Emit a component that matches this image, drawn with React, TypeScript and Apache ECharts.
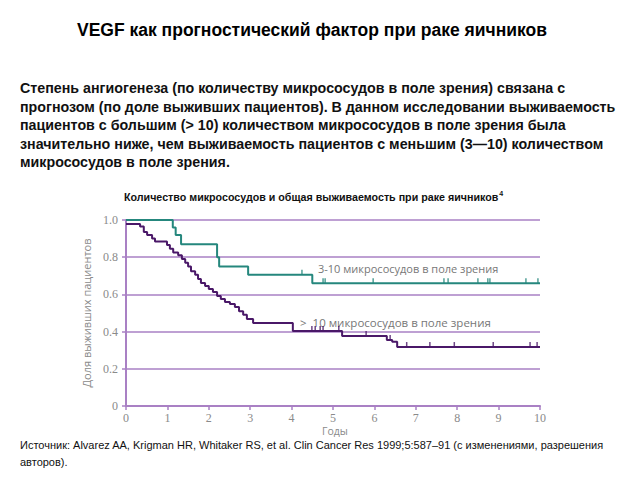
import React, { useEffect, useRef } from "react";
import * as echarts from "echarts";

// 3-10 microvessels (teal)
const lowTimes = [0, 1.13, 1.2, 1.33, 2.2, 2.25, 2.95, 4.5, 10];
const lowSurv = [1.0, 0.96, 0.92, 0.87, 0.8, 0.75, 0.705, 0.66, 0.66];
const lowCensorT = [4.25, 4.76, 4.81, 5.97, 7.68, 7.78, 8.5, 8.74, 8.79, 9.66, 9.95];
const lowCensorS = [0.705, 0.66, 0.66, 0.66, 0.66, 0.66, 0.66, 0.66, 0.66, 0.66, 0.66];

// >10 microvessels (purple)
const highTimes = [0, 0.34, 0.43, 0.51, 0.63, 0.7, 0.99, 1.06, 1.14, 1.26, 1.35, 1.43, 1.5, 1.57, 1.67, 1.74, 1.81, 1.91, 2.0, 2.1, 2.2, 2.29, 2.39, 2.51, 2.63, 2.73, 2.83, 2.92, 3.07, 4.03, 5.22, 6.3, 6.43, 6.55, 10];
const highSurv = [0.978, 0.965, 0.935, 0.92, 0.9, 0.885, 0.865, 0.845, 0.825, 0.81, 0.79, 0.77, 0.75, 0.725, 0.705, 0.683, 0.661, 0.645, 0.629, 0.613, 0.591, 0.575, 0.559, 0.548, 0.532, 0.51, 0.49, 0.468, 0.446, 0.403, 0.376, 0.355, 0.345, 0.317, 0.317];
const highCensorT = [4.49, 4.57, 4.69, 4.76, 5.14, 5.8, 6.38, 6.78, 7.34, 7.93, 8.87, 9.76, 9.93];
const highCensorS = [0.403, 0.403, 0.403, 0.403, 0.403, 0.376, 0.355, 0.317, 0.317, 0.317, 0.317, 0.317, 0.317];

const title = "VEGF как прогностический фактор при раке яичников";
const paragraph = [
  "Степень ангиогенеза (по количеству микрососудов в поле зрения) связана с",
  "прогнозом (по доле выживших пациентов). В данном исследовании выживаемость",
  "пациентов с большим (> 10) количеством микрососудов в поле зрения была",
  "значительно ниже, чем выживаемость пациентов с меньшим (3—10) количеством",
  "микрососудов в поле зрения.",
];
const chartTitle = "Количество микрососудов и общая выживаемость при раке яичников";
const chartTitleSup = "4";
const lowLabel = "3-10 микрососудов в поле зрения";
const highLabel = ">  10 микрососудов в поле зрения";
const yName = "Доля выживших пациентов";
const xName = "Годы";
const source1 = "Источник: Alvarez AA, Krigman HR, Whitaker RS, et al. Clin Cancer Res 1999;5:587–91 (с изменениями, разрешения";
const source2 = "авторов).";

const TEAL = "#25877d";
const PURPLE = "#4a1868";
const GRID = "#a980c4";
const GRAY = "#8a8a8a";

export default function App() {
  const ref = useRef<HTMLDivElement>(null);
  useEffect(() => {
    const chart = echarts.init(ref.current!, null, { renderer: "svg" });
    const zip = (a: number[], b: number[]) => a.map((t, i) => [t, b[i]]);
    chart.setOption({
      animation: false,
      backgroundColor: "#fff",
      grid: { left: 126, right: 100, top: 220, bottom: 74 },
      xAxis: {
        type: "value",
        min: 0,
        max: 10,
        interval: 1,
        axisLine: { show: true, lineStyle: { color: GRID, width: 2 } },
        axisTick: { show: true, length: 4, lineStyle: { color: GRID, width: 1.5 } },
        axisLabel: { color: GRAY, fontFamily: "Liberation Serif", fontSize: 12, margin: 6 },
        splitLine: { show: false },
      },
      yAxis: {
        type: "value",
        min: 0,
        max: 1,
        interval: 0.2,
        name: yName,
        nameLocation: "middle",
        nameGap: 26,
        nameTextStyle: { color: GRAY, fontFamily: "Open Sans", fontSize: 11 },
        axisLine: { show: true, lineStyle: { color: GRID, width: 2 } },
        axisTick: { show: true, length: 4, lineStyle: { color: GRID, width: 1.5 } },
        axisLabel: {
          color: GRAY,
          fontFamily: "Liberation Serif",
          fontSize: 12,
          margin: 8,
          formatter: (v: number) => (v === 0 ? "0" : v.toFixed(1)),
        },
        splitLine: { show: true, lineStyle: { color: GRID, width: 1.5 } },
      },
      series: [
        {
          type: "line",
          step: "end",
          data: zip(lowTimes, lowSurv),
          showSymbol: false,
          lineStyle: { color: TEAL, width: 2 },
          z: 3,
        },
        {
          type: "line",
          step: "end",
          data: zip(highTimes, highSurv),
          showSymbol: false,
          lineStyle: { color: PURPLE, width: 2 },
          z: 3,
        },
        {
          type: "scatter",
          data: zip(lowCensorT, lowCensorS),
          symbol: "rect",
          symbolSize: [1.5, 5],
          symbolOffset: [0, -2.5],
          itemStyle: { color: TEAL },
          z: 4,
        },
        {
          type: "scatter",
          data: zip(highCensorT, highCensorS),
          symbol: "rect",
          symbolSize: [1.5, 5],
          symbolOffset: [0, -2.5],
          itemStyle: { color: PURPLE },
          z: 4,
        },
      ],
      graphic: [
        {
          type: "text",
          left: 77,
          top: 21,
          style: { text: title, font: "bold 17.5px 'Liberation Sans', Arial", fill: "#000" },
        },
        ...paragraph.map((line, i) => ({
          type: "text",
          left: 20,
          top: 81 + i * 18.5,
          style: { text: line, font: "bold 14.25px 'Liberation Sans', Arial", fill: "#111" },
        })),
        {
          type: "text",
          left: 124,
          top: 190,
          style: {
            text: "{t|" + chartTitle + "}{s|" + chartTitleSup + "}",
            rich: {
              t: { font: "bold 10.7px 'Liberation Sans', Arial", fill: "#111" },
              s: { font: "bold 7px 'Liberation Sans', Arial", fill: "#111", verticalAlign: "top", padding: [0, 0, 6, 1] },
            },
          },
        },
        {
          type: "text",
          left: 318,
          top: 263,
          style: { text: lowLabel, font: "11px 'Open Sans'", fill: "#777" },
        },
        {
          type: "text",
          left: 300,
          top: 316,
          style: { text: highLabel, font: "11.5px 'Open Sans'", fill: "#777" },
        },
        {
          type: "text",
          left: 322,
          top: 425,
          style: { text: xName, font: "10.5px 'Open Sans'", fill: GRAY },
        },
        {
          type: "text",
          left: 20,
          top: 439.5,
          style: { text: source1, font: "11px 'Liberation Sans', Arial", fill: "#111" },
        },
        {
          type: "text",
          left: 20,
          top: 456,
          style: { text: source2, font: "11px 'Liberation Sans', Arial", fill: "#111" },
        },
      ],
    });
    return () => chart.dispose();
  }, []);
  return (
    <div
      ref={ref}
      style={{ position: "fixed", left: 0, top: 0, width: 640, height: 480, background: "#fff" }}
    />
  );
}
